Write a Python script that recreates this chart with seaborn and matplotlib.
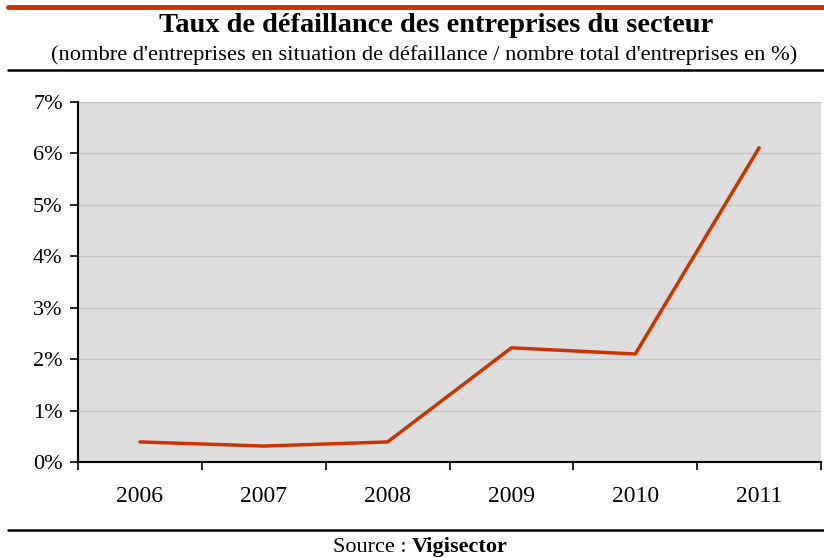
import matplotlib
matplotlib.use('Agg')
import matplotlib.pyplot as plt
import seaborn as sns
import pandas as pd
from matplotlib.lines import Line2D
from matplotlib.ticker import FuncFormatter, FixedLocator

# data
years = ['2006', '2007', '2008', '2009', '2010', '2011']
taux = [0.39, 0.31, 0.39, 2.22, 2.10, 6.11]

df = pd.DataFrame({'annee': years, 'taux': taux})

sns.set_style('white')
plt.rcParams['font.family'] = ['Liberation Serif', 'DejaVu Serif']
plt.rcParams['text.color'] = 'black'
plt.rcParams['xtick.color'] = 'black'
plt.rcParams['ytick.color'] = 'black'

fig = plt.figure(figsize=(8.24, 5.57), dpi=100)
ax = fig.add_axes([78 / 824, 1 - 462 / 557, 743 / 824, 360 / 557])
ax.set_facecolor('#dddddd')

sns.lineplot(data=df, x='annee', y='taux', ax=ax, color='#cc3300', linewidth=2.5,
             sort=False)

ax.set_xlim(-0.5, 5.5)
ax.set_ylim(0, 7)
ax.set_yticks(range(0, 8))
ax.yaxis.set_major_formatter(FuncFormatter(lambda v, p: f'{int(v)}%'))
ax.grid(axis='y', color='#c4c4c4', linewidth=1)
ax.set_axisbelow(True)

ax.xaxis.set_minor_locator(FixedLocator([i - 0.5 for i in range(7)]))
ax.tick_params(axis='x', which='major', bottom=True, length=0, pad=17, labelsize=17)
ax.tick_params(axis='x', which='minor', bottom=True, length=6, width=1.2,
               color='black', direction='out')
ax.tick_params(axis='y', left=True, length=6, width=1.2, color='black',
               direction='out', labelsize=16, pad=5)
ax.set_xlabel('')
ax.set_ylabel('')

for side in ['top', 'right']:
    ax.spines[side].set_visible(False)
for side in ['left', 'bottom']:
    ax.spines[side].set_color('black')
    ax.spines[side].set_linewidth(1.5)

# bandeau et filets
fig.add_artist(Line2D([8 / 824, 1], [1 - 7 / 557] * 2, color='#cc3300', linewidth=3.5))
fig.add_artist(Line2D([8 / 824, 1], [1 - 70 / 557] * 2, color='black', linewidth=1.8))
fig.add_artist(Line2D([8 / 824, 1], [1 - 530 / 557] * 2, color='black', linewidth=1.8))

fig.text(436 / 824, 1 - 26 / 557, 'Taux de défaillance des entreprises du secteur',
         ha='center', va='center', fontsize=20.4, fontweight='bold')
fig.text(424 / 824, 1 - 55 / 557,
         "(nombre d'entreprises en situation de défaillance / nombre total d'entreprises en %)",
         ha='center', va='center', fontsize=16.2)
fig.text(0.5, 1 - 547 / 557, 'Source : ', ha='right', va='center', fontsize=16)
fig.text(0.5, 1 - 547 / 557, 'Vigisector', ha='left', va='center', fontsize=16,
         fontweight='bold')

fig.savefig('out.png', dpi=100)
